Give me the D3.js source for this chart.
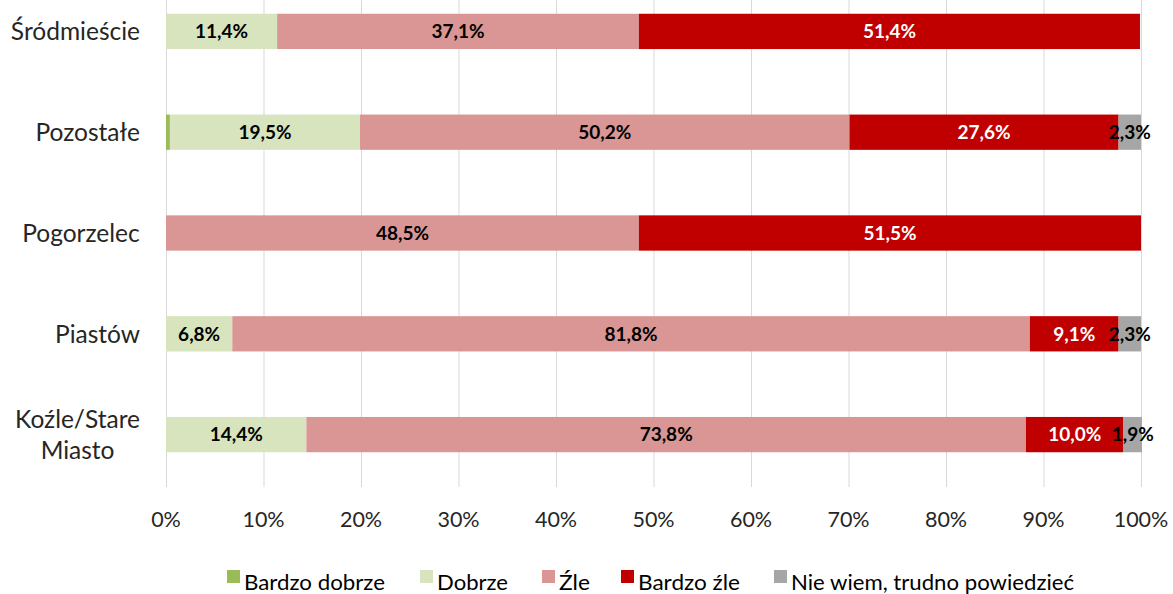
<!DOCTYPE html>
<html>
<head>
<meta charset="utf-8">
<script src="https://cdn.jsdelivr.net/npm/d3@7"></script>
<style>
  html, body { margin: 0; padding: 0; background: #fff; }
  svg { display: block; font-family: Lato, "Open Sans", sans-serif; }
</style>
</head>
<body>
<svg id="chart" width="1173" height="594"></svg>
<script>
// Districts, top to bottom
const districts = ["Śródmieście", "Pozostałe", "Pogorzelec", "Piastów", "Koźle/Stare Miasto"];
const districtLines = [["Śródmieście"], ["Pozostałe"], ["Pogorzelec"], ["Piastów"], ["Koźle/Stare", "Miasto"]];

// Answer categories (stack order, left to right)
const answers = ["Bardzo dobrze", "Dobrze", "Źle", "Bardzo źle", "Nie wiem, trudno powiedzieć"];

// Shares in percent, one array per answer, aligned with districts
const bardzoDobrze = [0.0, 0.4, 0.0, 0.0, 0.0];
const dobrze       = [11.4, 19.5, 0.0, 6.8, 14.4];
const zle          = [37.1, 50.2, 48.5, 81.8, 73.8];
const bardzoZle    = [51.4, 27.6, 51.5, 9.1, 10.0];
const nieWiem      = [0.0, 2.3, 0.0, 2.3, 1.9];

const tickValues = [0, 10, 20, 30, 40, 50, 60, 70, 80, 90, 100];

const colors = ["#9bbb59", "#d7e4bd", "#d99694", "#c00000", "#a6a6a6"];
const labelColors = ["#000", "#000", "#000", "#fff", "#000"];

const seriesValues = [bardzoDobrze, dobrze, zle, bardzoZle, nieWiem];
const rows = districts.map((d, i) => {
  const r = { district: d };
  answers.forEach((a, j) => { r[a] = seriesValues[j][i]; });
  return r;
});
const stacked = d3.stack().keys(answers)(rows);

const svg = d3.select("#chart");
const x = d3.scaleLinear().domain([0, 100]).range([166, 1141]);
const y = d3.scaleBand().domain(districts).range([-19, 485]).paddingInner(0.65).paddingOuter(0.325);
const plotBottom = 487;

// Vertical gridlines
svg.append("g").selectAll("line").data(tickValues).join("line")
  .attr("x1", d => x(d) + 0.5).attr("x2", d => x(d) + 0.5)
  .attr("y1", 0).attr("y2", plotBottom)
  .attr("stroke", "#d9d9d9").attr("stroke-width", 1);

// Stacked segments
const layers = svg.append("g").selectAll("g").data(stacked).join("g")
  .attr("fill", (d, i) => colors[i]);
layers.selectAll("rect").data(d => d.map(v => ({ v, district: v.data.district })))
  .join("rect")
  .attr("x", d => x(d.v[0]))
  .attr("width", d => Math.max(0, x(d.v[1]) - x(d.v[0])))
  .attr("y", d => y(d.district))
  .attr("height", y.bandwidth());

// Value labels
const fmt = v => v.toFixed(1).replace(".", ",") + "%";
stacked.forEach((layer, i) => {
  svg.append("g").selectAll("text")
    .data(layer.filter(v => v[1] - v[0] >= 1))
    .join("text")
    .attr("x", d => x((d[0] + d[1]) / 2))
    .attr("y", d => y(d.data.district) + y.bandwidth() / 2)
    .attr("dy", "0.36em")
    .attr("text-anchor", "middle")
    .attr("font-weight", "bold")
    .attr("font-size", 19)
    .attr("fill", labelColors[i])
    .text(d => fmt(d[1] - d[0]));
});

// Category labels
const cat = svg.append("g").selectAll("text").data(districts).join("text")
  .attr("text-anchor", "middle")
  .attr("font-size", 24.5)
  .attr("fill", "#262626");
cat.each(function (d, i) {
  const lines = districtLines[i];
  const t = d3.select(this);
  const lh = 31;
  const cy = y(d) + y.bandwidth() / 2 - (lines.length - 1) * lh / 2;
  lines.forEach((ln, k) => {
    t.append("tspan").attr("x", 0).attr("y", cy + k * lh).attr("dy", "0.36em").text(ln);
  });
});
// right-align each label block at x = 140
cat.each(function () {
  const b = this.getBBox();
  d3.select(this).attr("transform", `translate(${140 - (b.x + b.width)},0)`);
});

// X axis tick labels
svg.append("g").selectAll("text").data(tickValues).join("text")
  .attr("x", d => x(d))
  .attr("y", 519)
  .attr("dy", "0.36em")
  .attr("text-anchor", "middle")
  .attr("font-size", 21.5)
  .attr("fill", "#262626")
  .text(d => d + "%");

// Legend
const legendX = [227, 420, 542, 621, 774];
const legendW = [141, 71, 31, 102, 283];
const lg = svg.append("g").selectAll("g").data(answers).join("g")
  .attr("transform", (d, i) => `translate(${legendX[i]},0)`);
lg.append("rect").attr("x", 0).attr("y", 570).attr("width", 13).attr("height", 13)
  .attr("fill", (d, i) => colors[i]);
lg.append("text").attr("x", 17).attr("y", 590)
  .attr("font-size", 22)
  .attr("fill", "#000")
  .attr("textLength", (d, i) => legendW[i])
  .attr("lengthAdjust", "spacingAndGlyphs")
  .text(d => d);
</script>
</body>
</html>
